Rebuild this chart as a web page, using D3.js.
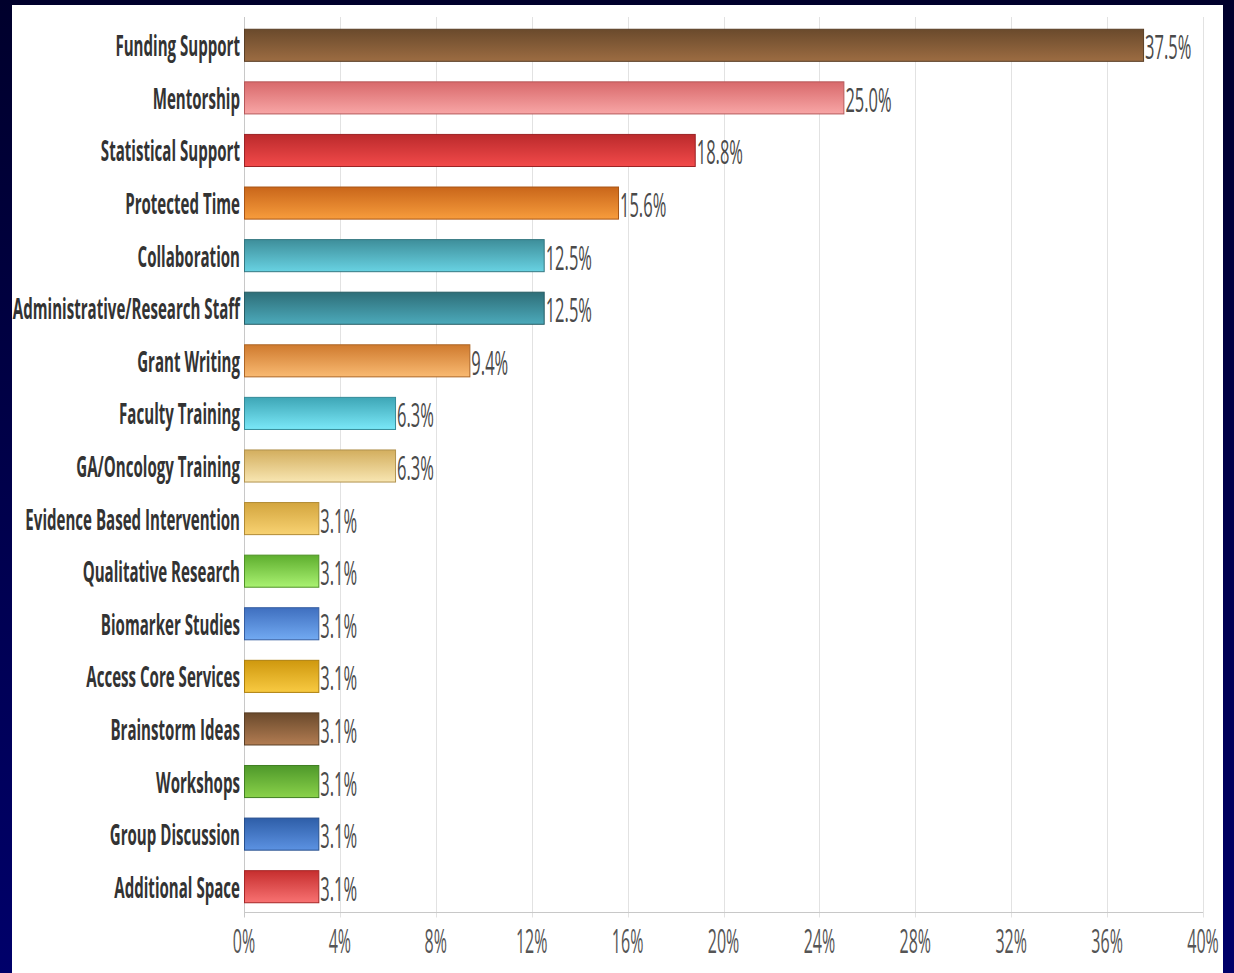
<!DOCTYPE html>
<html>
<head>
<meta charset="utf-8">
<script src="https://cdn.jsdelivr.net/npm/d3@7"></script>
<style>
  html, body { margin: 0; padding: 0; }
  body { width: 1234px; height: 973px; overflow: hidden; }
  svg { display: block; }
</style>
</head>
<body>
<svg id="chart" width="1234" height="973"></svg>
<script>
// Survey responses: share of respondents naming each type of support
const categories = [
  "Funding Support", "Mentorship", "Statistical Support", "Protected Time",
  "Collaboration", "Administrative/Research Staff", "Grant Writing",
  "Faculty Training", "GA/Oncology Training", "Evidence Based Intervention",
  "Qualitative Research", "Biomarker Studies", "Access Core Services",
  "Brainstorm Ideas", "Workshops", "Group Discussion", "Additional Space"
];
const values = [37.5, 25.0, 18.8, 15.6, 12.5, 12.5, 9.4, 6.3, 6.3, 3.1, 3.1, 3.1, 3.1, 3.1, 3.1, 3.1, 3.1];
const xTicks = [0, 4, 8, 12, 16, 20, 24, 28, 32, 36, 40];

// Bar fill palette: darker shade at the top edge, lighter at the bottom
const topColors = [
  "#6a4a2c", "#d8696b", "#bb2a2c", "#c9661a", "#3e8e9a", "#2e6e78",
  "#cf7a2e", "#3ea6b6", "#d3ae5e", "#d3a53e", "#5eae2e", "#3f6fbf",
  "#cf980e", "#6a4a2c", "#4e982a", "#2e5ea8", "#c62e2e"
];
const bottomColors = [
  "#9c6c42", "#f8a6a6", "#f24a4a", "#f79c3c", "#68d2e2", "#4caabb",
  "#f9ba72", "#7ae8f8", "#f8e6b2", "#f8d272", "#aaf272", "#72aaf2",
  "#f8ca42", "#b27c52", "#8ad24a", "#5c92e2", "#f87272"
];

const W = 1234, H = 973;
const svg = d3.select("#chart");
const defs = svg.append("defs");

// Slide backdrop
const bg = defs.append("linearGradient").attr("id", "bg").attr("x1", 0).attr("y1", 0).attr("x2", 0).attr("y2", 1);
bg.append("stop").attr("offset", 0).attr("stop-color", "#00002c");
bg.append("stop").attr("offset", 1).attr("stop-color", "#00006a");
svg.append("rect").attr("width", W).attr("height", H).attr("fill", "url(#bg)");
svg.append("rect").attr("x", 12).attr("y", 5).attr("width", 1211).attr("height", H - 5).attr("fill", "#ffffff");

const x = d3.scaleLinear().domain([0, 40]).range([244, 1203]);
const y = d3.scaleBand().domain(categories).range([19, 913]).paddingInner(0.39).paddingOuter(0.195);
const axisY = 912.5;

const sx = 0.5; // narrow lettering

// Vertical grid lines with short ticks below the axis
svg.append("g")
  .selectAll("line")
  .data(xTicks)
  .join("line")
  .attr("x1", d => Math.round(x(d)) + 0.5)
  .attr("x2", d => Math.round(x(d)) + 0.5)
  .attr("y1", 17)
  .attr("y2", axisY + 5)
  .attr("stroke", d => d === 0 ? "#c8c8c8" : "#e2e2e2")
  .attr("stroke-width", 1);

// Axis baseline
svg.append("line")
  .attr("x1", x(0)).attr("x2", x(40))
  .attr("y1", axisY).attr("y2", axisY)
  .attr("stroke", "#c8c8c8").attr("stroke-width", 1.2);

// Tick labels
svg.append("g")
  .selectAll("g")
  .data(xTicks)
  .join("g")
  .attr("transform", d => `translate(${x(d)},953)`)
  .append("text")
  .attr("transform", `scale(${sx},1)`)
  .attr("text-anchor", "middle")
  .attr("font-family", "'Open Sans', sans-serif")
  .attr("font-size", 32)
  .attr("fill", "#555555")
  .text(d => d + "%");

// Gradients per bar
categories.forEach((c, i) => {
  const g = defs.append("linearGradient").attr("id", "grad" + i)
    .attr("x1", 0).attr("y1", 0).attr("x2", 0).attr("y2", 1);
  g.append("stop").attr("offset", 0).attr("stop-color", topColors[i]);
  g.append("stop").attr("offset", 1).attr("stop-color", bottomColors[i]);
});

// Bars
svg.append("g")
  .selectAll("rect")
  .data(values)
  .join("rect")
  .attr("x", x(0) + 0.5)
  .attr("y", (d, i) => y(categories[i]))
  .attr("width", d => x(d) - x(0))
  .attr("height", y.bandwidth())
  .attr("fill", (d, i) => `url(#grad${i})`)
  .attr("stroke", (d, i) => d3.color(topColors[i]).darker(0.5))
  .attr("stroke-width", 1);

// Category labels
svg.append("g")
  .selectAll("g")
  .data(categories)
  .join("g")
  .attr("transform", d => `translate(240,${y(d) + y.bandwidth() / 2 + 11})`)
  .append("text")
  .attr("transform", `scale(0.52,1)`)
  .attr("text-anchor", "end")
  .attr("font-family", "'Open Sans', sans-serif")
  .attr("font-weight", 700)
  .attr("font-size", 29)
  .attr("fill", "#333333")
  .text(d => d);

// Value labels
svg.append("g")
  .selectAll("g")
  .data(values)
  .join("g")
  .attr("transform", (d, i) => `translate(${x(d) + 2},${y(categories[i]) + y.bandwidth() / 2 + 14})`)
  .append("text")
  .attr("transform", `scale(${sx},1)`)
  .attr("text-anchor", "start")
  .attr("font-family", "'Open Sans', sans-serif")
  .attr("font-size", 33)
  .attr("fill", "#4a4a4a")
  .text(d => d3.format(".1f")(d) + "%");
</script>
</body>
</html>
